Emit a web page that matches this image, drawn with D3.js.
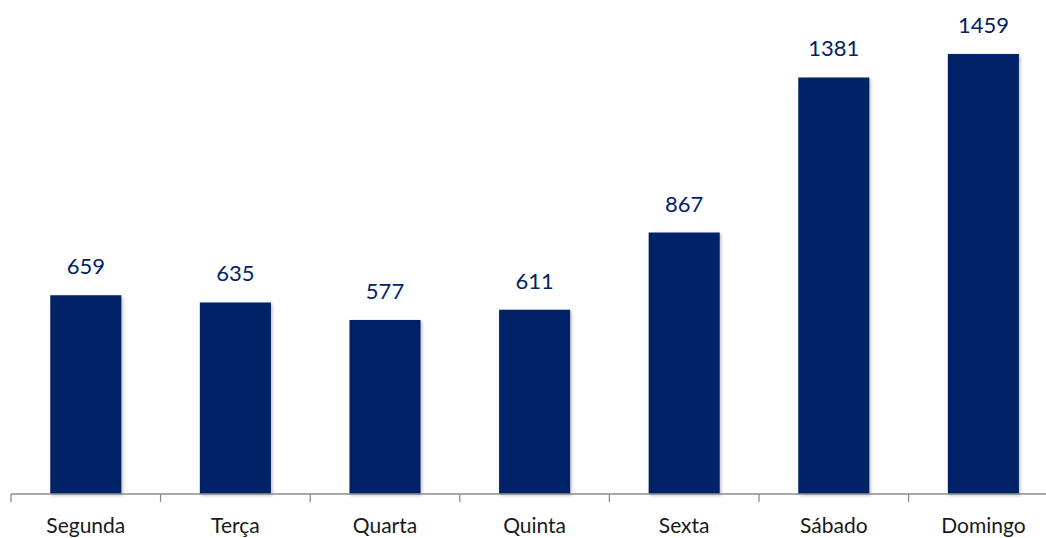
<!DOCTYPE html>
<html>
<head>
<meta charset="utf-8">
<script src="https://cdn.jsdelivr.net/npm/d3@7"></script>
<style>
  body { margin: 0; background: #fff; }
  text { font-family: Lato, "Open Sans", sans-serif; }
</style>
</head>
<body>
<div id="chart"></div>
<script>
const days = ["Segunda", "Terça", "Quarta", "Quinta", "Sexta", "Sábado", "Domingo"];
const counts = [659, 635, 577, 611, 867, 1381, 1459];

const width = 1046, height = 538;
const axisY = 494;

const svg = d3.select("#chart").append("svg")
  .attr("width", width)
  .attr("height", height);

const defs = svg.append("defs");
const shadow = defs.append("filter").attr("id", "shadow")
  .attr("x", "-10%").attr("y", "-10%").attr("width", "130%").attr("height", "130%");
shadow.append("feDropShadow")
  .attr("dx", 1.5).attr("dy", 1.5).attr("stdDeviation", 1.5)
  .attr("flood-color", "#000").attr("flood-opacity", 0.25);

const x = d3.scaleBand()
  .domain(days)
  .range([11, 11 + 7 * 149.6])
  .paddingInner(0.525)
  .paddingOuter(0.2625);

const y = d3.scaleLinear()
  .domain([0, 1600])
  .range([axisY, axisY - 1600 * 0.3016]);

svg.append("g").selectAll("rect")
  .data(counts)
  .join("rect")
  .attr("x", (d, i) => x(days[i]))
  .attr("y", d => y(d))
  .attr("width", x.bandwidth())
  .attr("height", d => axisY - y(d))
  .attr("fill", "#002366")
  .attr("filter", "url(#shadow)");

// axis line with ticks between categories
const axis = svg.append("g");
axis.append("line")
  .attr("x1", 11).attr("x2", width)
  .attr("y1", axisY).attr("y2", axisY)
  .attr("stroke", "#8c8c8c").attr("stroke-width", 1.3);
axis.selectAll("line.tick")
  .data(days)
  .join("line")
  .attr("class", "tick")
  .attr("x1", d => x(d) - x.step() * x.paddingOuter())
  .attr("x2", d => x(d) - x.step() * x.paddingOuter())
  .attr("y1", axisY).attr("y2", axisY + 8)
  .attr("stroke", "#8c8c8c").attr("stroke-width", 1.3);

svg.append("g").selectAll("text")
  .data(days)
  .join("text")
  .attr("x", d => x(d) + x.bandwidth() / 2)
  .attr("y", 533)
  .attr("text-anchor", "middle")
  .attr("font-size", 21)
  .attr("fill", "#1a1a1a")
  .text(d => d);

svg.append("g").selectAll("text")
  .data(counts)
  .join("text")
  .attr("x", (d, i) => x(days[i]) + x.bandwidth() / 2)
  .attr("y", d => y(d) - 21)
  .attr("text-anchor", "middle")
  .attr("font-size", 22)
  .attr("fill", "#002366")
  .text(d => d);
</script>
</body>
</html>
